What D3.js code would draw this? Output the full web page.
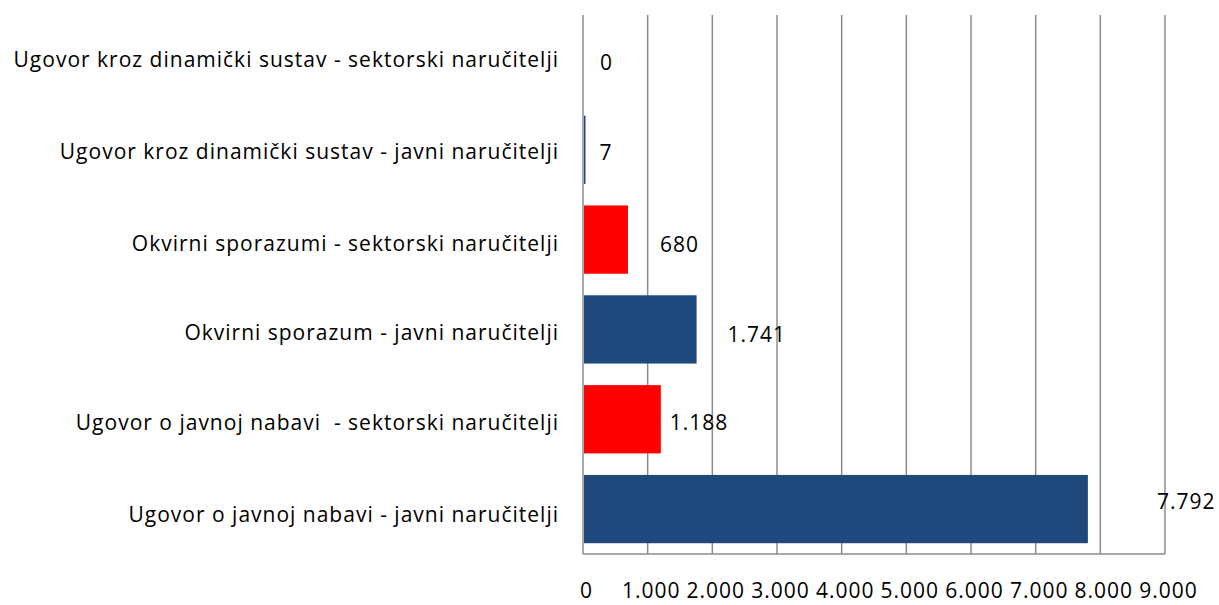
<!DOCTYPE html>
<html>
<head>
<meta charset="utf-8">
<script src="https://cdn.jsdelivr.net/npm/d3@7"></script>
<style>
  html, body { margin: 0; padding: 0; background: #fff; }
  svg { display: block; }
  text { font-family: "Open Sans", sans-serif; fill: #000; font-size: 21px; letter-spacing: 1px; }
</style>
</head>
<body>
<svg id="chart" width="1219" height="605"></svg>
<script>
// Contract types, listed top to bottom
const categories = [
  "Ugovor kroz dinamički sustav - sektorski naručitelji",
  "Ugovor kroz dinamički sustav - javni naručitelji",
  "Okvirni sporazumi - sektorski naručitelji",
  "Okvirni sporazum - javni naručitelji",
  "Ugovor o javnoj nabavi  - sektorski naručitelji",
  "Ugovor o javnoj nabavi - javni naručitelji"
];
// Number of contracts per type
const values = [0, 7, 680, 1741, 1188, 7792];
// Contracting authority type for each row
const buyerTypes = ["sektorski", "javni", "sektorski", "javni", "sektorski", "javni"];
// Value axis ticks
const xTicks = [0, 1000, 2000, 3000, 4000, 5000, 6000, 7000, 8000, 9000];

// Placement tweaks for the value labels (px from bar end / band centre)
const labelNudge = [17, 16, 33, 32, 10, 70];
const labelDy = [3, 3, 4.5, 5, 3.5, -8];
// Vertical tweak for the category labels
const catDy = [0, 2, 4, 3.5, 3, 5.5];
// Offset from visual centre of digits/capitals to the baseline
const capHalf = 7.5;

const hr = d3.formatLocale({ decimal: ",", thousands: ".", grouping: [3], currency: ["", " kn"] });
const fmt = hr.format(",d");

const svg = d3.select("#chart");
const plot = { left: 583, right: 1165, top: 15, bottom: 554 };

const x = d3.scaleLinear().domain([0, 9000]).range([plot.left, plot.right]);
const y = d3.scaleBand().domain(categories).range([plot.top, plot.bottom])
  .paddingInner(0.24).paddingOuter(0.12);
const color = d3.scaleOrdinal().domain(["javni", "sektorski"]).range(["#1F497D", "#FF0000"]);
const mid = c => y(c) + y.bandwidth() / 2;

// Vertical gridlines
svg.append("g")
  .selectAll("line")
  .data(xTicks)
  .join("line")
  .attr("x1", d => x(d)).attr("x2", d => x(d))
  .attr("y1", plot.top).attr("y2", plot.bottom)
  .attr("stroke", "#8c8c8c").attr("stroke-width", 1.5);

// Bottom axis line
svg.append("line")
  .attr("x1", plot.left).attr("x2", plot.right)
  .attr("y1", plot.bottom).attr("y2", plot.bottom)
  .attr("stroke", "#8c8c8c").attr("stroke-width", 1.5);

// Bars (tiny non-zero values keep a hairline so they stay visible)
svg.append("g")
  .selectAll("rect")
  .data(values)
  .join("rect")
  .attr("x", x(0) + 1)
  .attr("y", (d, i) => y(categories[i]))
  .attr("width", d => d > 0 ? Math.max(1.5, x(d) - x(0)) : 0)
  .attr("height", y.bandwidth())
  .attr("fill", (d, i) => color(buyerTypes[i]));

// Value labels
svg.append("g")
  .selectAll("text")
  .data(values)
  .join("text")
  .attr("x", (d, i) => x(d) + labelNudge[i])
  .attr("y", (d, i) => mid(categories[i]) + labelDy[i] + capHalf)
  .text(d => fmt(d));

// Category labels
svg.append("g")
  .selectAll("text")
  .data(categories)
  .join("text")
  .attr("x", 559)
  .attr("y", (d, i) => mid(d) + catDy[i] + capHalf)
  .attr("text-anchor", "end")
  .attr("xml:space", "preserve")
  .style("white-space", "pre")
  .text(d => d);

// Value axis tick labels
const xAxis = d3.axisBottom(x).tickValues(xTicks).tickFormat(fmt).tickSize(0).tickPadding(0);
const axisG = svg.append("g")
  .attr("transform", `translate(3, ${plot.bottom + 29.5})`)
  .call(xAxis);
axisG.select(".domain").remove();
axisG.attr("font-size", null).attr("font-family", null);
axisG.selectAll("text").attr("fill", "#000");
</script>
</body>
</html>
